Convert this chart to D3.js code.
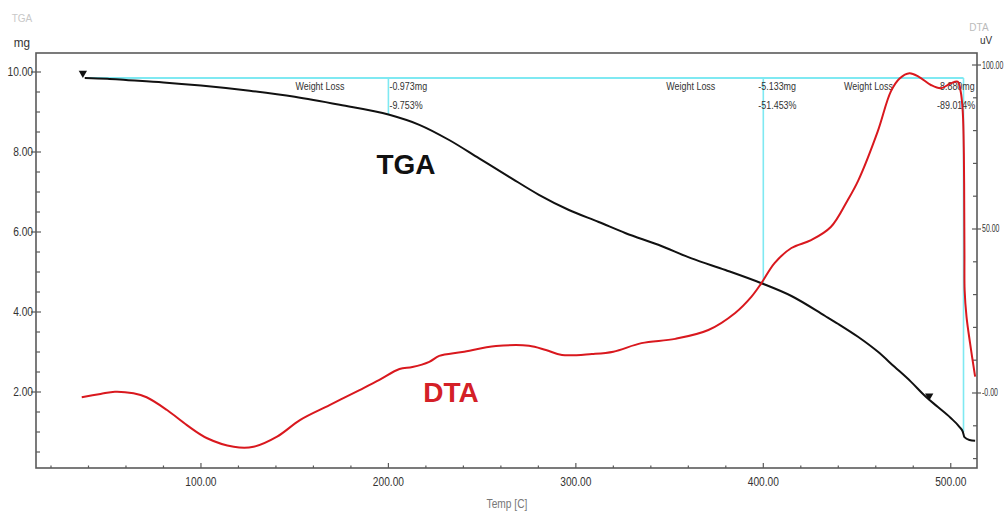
<!DOCTYPE html>
<html>
<head>
<meta charset="utf-8">
<script src="https://cdn.jsdelivr.net/npm/d3@7"></script>
<style>
  html, body { margin: 0; padding: 0; background: #fff; }
  svg { display: block; }
  .tick-label { font-family: "Liberation Sans", Arial, sans-serif; font-size: 12px; fill: #333; }
  .small { font-family: "Liberation Sans", Arial, sans-serif; font-size: 10.5px; fill: #333; }
</style>
</head>
<body>
<svg id="chart" width="1005" height="513"></svg>
<script>
// ---- data ----
const tgaTemp = [38, 50, 60, 80, 100, 126, 150, 174, 200.5, 216.5, 232.4, 248.4, 264.4, 280.3, 296.3, 312.2, 326.6, 344, 361.7, 379.8, 399, 415, 433, 440, 450.5, 461, 470, 478.7, 486.7, 493, 500, 504.6, 506.4, 507.3, 510, 513];
const tgaMass = [9.85, 9.83, 9.8, 9.74, 9.66, 9.53, 9.38, 9.18, 8.93, 8.68, 8.3, 7.84, 7.38, 6.93, 6.55, 6.25, 5.97, 5.68, 5.34, 5.05, 4.72, 4.40, 3.90, 3.70, 3.38, 3.01, 2.63, 2.26, 1.88, 1.63, 1.35, 1.13, 1.01, 0.87, 0.8, 0.78];

const dtaTemp = [36.4, 46.4, 54.1, 64, 71, 81.9, 92.5, 103.3, 117.5, 128, 140.6, 153, 168.6, 184.6, 195.2, 205.9, 212.8, 221.8, 227.1, 239.4, 257.4, 275, 284, 292.6, 308.5, 320, 335, 353, 370.7, 385, 393.6, 399, 406, 415, 425.5, 436, 445, 450.5, 461, 468, 472.7, 478, 483, 489.4, 494.7, 500, 503.7, 505.3, 506.4, 507, 507.2, 507.3, 507.4, 508.4, 510.3, 513];
const dtaValue = [-1.3, -0.3, 0.4, -0.1, -1.3, -5.2, -9.8, -13.8, -16.4, -16.4, -13.3, -8.2, -3.7, 0.9, 4.0, 7.3, 7.9, 9.5, 11.3, 12.5, 14.3, 14.4, 13.1, 11.6, 11.9, 12.6, 15.2, 16.5, 19.2, 24.4, 29.3, 33.5, 39.6, 44.2, 46.6, 50.6, 58.8, 64.6, 79.7, 91.9, 95.9, 97.5, 96.4, 93.9, 92.9, 94.4, 94.9, 91.9, 85.8, 72.6, 55, 42, 31.4, 23.3, 15.2, 5];

const lossTemp = [200, 400, 506.8];
const lossMg = ["-0.973mg", "-5.133mg", "-8.880mg"];
const lossPct = ["-9.753%", "-51.453%", "-89.014%"];
const lossEnd = [8.93, 4.72, 1.0];
const baseMass = 9.85;
const baseStart = 40;

const xTicksMajor = [100, 200, 300, 400, 500];
const yLeftMajor = [2, 4, 6, 8, 10];
const yRightMajor = [0, 50, 100];
const yRightLabels = ["-0.00", "50.00", "100.00"];

// ---- layout ----
const L = 36, R = 977, T = 53, B = 468;
const svg = d3.select("#chart");

const x = d3.scaleLinear().domain([12, 514]).range([L, R]);
const yL = d3.scaleLinear().domain([0.1, 10.475]).range([B, T]);
const yR = d3.scaleLinear().domain([-22.87, 103.66]).range([B, T]);

// squeeze text horizontally to mimic a narrow font
function narrow(sel, f) {
  sel.each(function () {
    const len = this.getComputedTextLength();
    d3.select(this).attr("textLength", len * f).attr("lengthAdjust", "spacingAndGlyphs");
  });
}

// frame
const frameColor = "#5a5a5a";
svg.append("rect").attr("x", L).attr("y", T).attr("width", R - L).attr("height", B - T)
  .attr("fill", "none").attr("stroke", frameColor).attr("stroke-width", 1.6);

// x axis ticks
const xMinor = d3.range(20, 514, 20).filter(v => v % 100 !== 0);
svg.append("g").selectAll("line").data(xMinor).join("line")
  .attr("x1", d => x(d)).attr("x2", d => x(d)).attr("y1", B - 2.5).attr("y2", B)
  .attr("stroke", frameColor).attr("stroke-width", 1.2);
svg.append("g").selectAll("line").data(xTicksMajor).join("line")
  .attr("x1", d => x(d)).attr("x2", d => x(d)).attr("y1", B - 5).attr("y2", B)
  .attr("stroke", frameColor).attr("stroke-width", 1.2);
svg.append("g").selectAll("text").data(xTicksMajor).join("text")
  .attr("class", "tick-label").attr("x", d => x(d)).attr("y", B + 18)
  .attr("text-anchor", "middle").text(d => d3.format(".2f")(d))
  .call(narrow, 0.85);

// left axis ticks
const yLMinor = d3.range(0.5, 10.4, 0.5).filter(v => Math.abs(v % 2) > 0.01);
svg.append("g").selectAll("line").data(yLMinor).join("line")
  .attr("x1", L).attr("x2", L + 4).attr("y1", d => yL(d)).attr("y2", d => yL(d))
  .attr("stroke", frameColor).attr("stroke-width", 1.2);
svg.append("g").selectAll("line").data(yLeftMajor).join("line")
  .attr("x1", L - 5).attr("x2", L + 5).attr("y1", d => yL(d)).attr("y2", d => yL(d))
  .attr("stroke", frameColor).attr("stroke-width", 1.2);
svg.append("g").selectAll("text").data(yLeftMajor).join("text")
  .attr("class", "tick-label").attr("x", L - 3).attr("y", d => yL(d) + 4)
  .attr("text-anchor", "end").text(d => d3.format(".2f")(d))
  .call(narrow, 0.85);

// right axis ticks
const yRMinor = d3.range(-20, 101, 10).filter(v => v % 50 !== 0);
svg.append("g").selectAll("line").data(yRMinor).join("line")
  .attr("x1", R - 4).attr("x2", R).attr("y1", d => yR(d)).attr("y2", d => yR(d))
  .attr("stroke", frameColor).attr("stroke-width", 1.2);
svg.append("g").selectAll("line").data(yRightMajor).join("line")
  .attr("x1", R - 5).attr("x2", R + 4).attr("y1", d => yR(d)).attr("y2", d => yR(d))
  .attr("stroke", frameColor).attr("stroke-width", 1.2);
svg.append("g").selectAll("text").data(yRightMajor).join("text")
  .attr("class", "tick-label")
  .attr("transform", d => `translate(${R + 5},${yR(d) + 3.5}) scale(0.7,1)`)
  .attr("text-anchor", "start").style("font-size", "10px").text((d, i) => yRightLabels[i]);

// axis titles
svg.append("text").attr("class", "tick-label").attr("x", 22).attr("y", 22)
  .attr("text-anchor", "middle").style("fill", "#c8c8c8").style("font-size", "10px").text("TGA");
svg.append("text").attr("class", "tick-label").attr("x", 22).attr("y", 47)
  .attr("text-anchor", "middle").style("font-size", "13px").text("mg").call(narrow, 0.9);
svg.append("text").attr("class", "tick-label").attr("x", 979).attr("y", 31)
  .attr("text-anchor", "middle").style("fill", "#bbb").style("font-size", "10px").text("DTA");
svg.append("text").attr("class", "tick-label").attr("x", 986).attr("y", 44)
  .attr("text-anchor", "middle").style("font-size", "10px").text("uV");
svg.append("text").attr("class", "tick-label").attr("x", 507).attr("y", 508)
  .attr("text-anchor", "middle").style("fill", "#777").style("font-size", "12px").text("Temp [C]")
  .call(narrow, 0.85);

// weight-loss annotation lines (cyan)
const cyan = "#7fe9f2";
svg.append("line").attr("x1", x(baseStart)).attr("x2", x(lossTemp[2]))
  .attr("y1", yL(baseMass)).attr("y2", yL(baseMass))
  .attr("stroke", cyan).attr("stroke-width", 2);
svg.append("g").selectAll("line").data(lossTemp).join("line")
  .attr("x1", d => x(d)).attr("x2", d => x(d))
  .attr("y1", yL(baseMass)).attr("y2", (d, i) => yL(lossEnd[i]))
  .attr("stroke", cyan).attr("stroke-width", 1.6);

// annotation texts
const wlEnd = [x(lossTemp[0]) - 44, x(lossTemp[1]) - 48, 893];
const valX = [x(lossTemp[0]) + 1, x(lossTemp[1]) - 5, 937];
lossTemp.forEach((t, i) => {
  svg.append("text").attr("class", "small").attr("x", wlEnd[i]).attr("y", yL(baseMass) + 12)
    .attr("text-anchor", "end").text("Weight Loss").call(narrow, 0.85);
  svg.append("text").attr("class", "small").attr("x", valX[i]).attr("y", yL(baseMass) + 12)
    .text(lossMg[i]).call(narrow, 0.85);
  svg.append("text").attr("class", "small").attr("x", valX[i]).attr("y", yL(baseMass) + 31)
    .text(lossPct[i]).call(narrow, 0.85);
});

// TGA curve
const tgaData = tgaTemp.map((t, i) => [t, tgaMass[i]]);
svg.append("path").datum(tgaData)
  .attr("d", d3.line().x(d => x(d[0])).y(d => yL(d[1])).curve(d3.curveMonotoneX))
  .attr("fill", "none").attr("stroke", "#111").attr("stroke-width", 2);

// DTA curve
const dtaData = dtaTemp.map((t, i) => [t, dtaValue[i]]);
svg.append("path").datum(dtaData)
  .attr("d", d3.line().x(d => x(d[0])).y(d => yR(d[1])).curve(d3.curveCatmullRom.alpha(0.5)))
  .attr("fill", "none").attr("stroke", "#d9181e").attr("stroke-width", 2);

// markers
const tri = d3.symbol().type(d3.symbolTriangle).size(30);
svg.append("path").attr("d", tri()).attr("fill", "#111")
  .attr("transform", `translate(${x(37)},${yL(9.97)}) rotate(180)`);
svg.append("path").attr("d", tri()).attr("fill", "#111")
  .attr("transform", `translate(${x(488.5)},${yL(1.9)}) rotate(180)`);

// big labels
svg.append("text").attr("x", 406).attr("y", 174).attr("text-anchor", "middle")
  .style("font-family", "Liberation Sans, Arial, sans-serif").style("font-weight", "bold")
  .style("font-size", "28px").style("fill", "#111").text("TGA");
svg.append("text").attr("x", 451).attr("y", 402).attr("text-anchor", "middle")
  .style("font-family", "Liberation Sans, Arial, sans-serif").style("font-weight", "bold")
  .style("font-size", "28px").style("fill", "#d42027").text("DTA");
</script>
</body>
</html>
